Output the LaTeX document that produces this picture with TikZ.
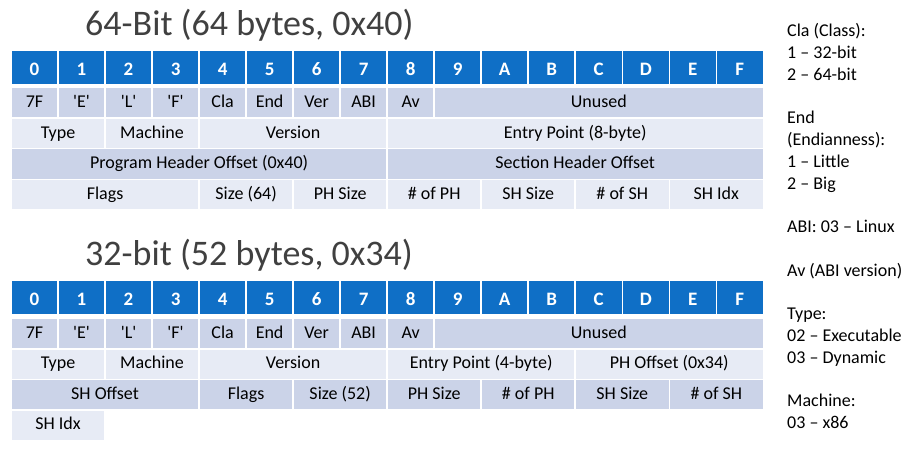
\documentclass[tikz,border=0pt]{standalone}
\usepackage{fontspec}
\newfontfamily\calib{Carlito}
\definecolor{hdrblue}{HTML}{0F6FC6}
\definecolor{banddark}{HTML}{CBD3E8}
\definecolor{bandlight}{HTML}{E7EBF5}
\definecolor{titlegray}{HTML}{404040}

\tikzset{
  cell/.style={rectangle, inner sep=0pt, draw=white, line width=1.5pt,
    text height=13pt, text depth=3.8pt, text=black,
    font=\calib\fontsize{18}{20}\selectfont},
  hdrcell/.style={cell, fill=hdrblue, text=white, text height=15.5pt, text depth=0pt,
    minimum width=47.02pt, minimum height=34.5pt,
    font=\calib\bfseries\fontsize{19}{22}\selectfont},
  title/.style={anchor=base west, inner sep=0pt, text=titlegray,
    font=\calib\fontsize{36}{40}\selectfont},
  legend/.style={anchor=base west, inner sep=0pt, text=black,
    font=\calib\fontsize{18}{21.76}\selectfont}
}

% one field cell: name, fill, row top, first byte column, byte span, label
\newcommand\elfcell[6]{%
  \node[cell, fill=#2, minimum width={#5*47.02pt}, minimum height=30.6pt]
    (#1) at ({11+(#4+#5/2)*47.02}, {#3+15.3}) {#6};}
% one line of the notes column: name, line number, text
\newcommand\noteline[3]{%
  \node[legend] (#1) at (787, {36.7+#2*21.76}) {#3};}

\begin{document}
\begin{tikzpicture}[x=1pt, y=-1pt]
\useasboundingbox (0,0) rectangle (907,450);

% ---------- 64-bit header ----------
\node[title] (title64) at (85,35) {64-Bit (64 bytes, 0x40)};
\foreach \c/\lab in {0/0,1/1,2/2,3/3,4/4,5/5,6/6,7/7,8/8,9/9,10/A,11/B,12/C,13/D,14/E,15/F}
  {\node[hdrcell] (a-h\c) at ({11+(\c+0.5)*47.02}, 67.25) {\lab};}

\foreach \c/\lab in {0/7F,1/'E',2/'L',3/'F',4/Cla,5/End,6/Ver,7/ABI,8/Av}
  {\elfcell{a-r1c\c}{banddark}{87.5}{\c}{1}{\lab}}
\elfcell{a-unused}{banddark}{87.5}{9}{7}{Unused}

\elfcell{a-type}{bandlight}{118.1}{0}{2}{Type}
\elfcell{a-mach}{bandlight}{118.1}{2}{2}{Machine}
\elfcell{a-ver}{bandlight}{118.1}{4}{4}{Version}
\elfcell{a-entry}{bandlight}{118.1}{8}{8}{Entry Point (8-byte)}

\elfcell{a-phoff}{banddark}{148.7}{0}{8}{Program Header Offset (0x40)}
\elfcell{a-shoff}{banddark}{148.7}{8}{8}{Section Header Offset}

\elfcell{a-flags}{bandlight}{179.3}{0}{4}{Flags}
\elfcell{a-size}{bandlight}{179.3}{4}{2}{Size (64)}
\elfcell{a-phsize}{bandlight}{179.3}{6}{2}{PH Size}
\elfcell{a-phnum}{bandlight}{179.3}{8}{2}{\# of PH}
\elfcell{a-shsize}{bandlight}{179.3}{10}{2}{SH Size}
\elfcell{a-shnum}{bandlight}{179.3}{12}{2}{\# of SH}
\elfcell{a-shidx}{bandlight}{179.3}{14}{2}{SH Idx}

% ---------- 32-bit header ----------
\node[title] (title32) at (85,265.5) {32-bit (52 bytes, 0x34)};
\foreach \c/\lab in {0/0,1/1,2/2,3/3,4/4,5/5,6/6,7/7,8/8,9/9,10/A,11/B,12/C,13/D,14/E,15/F}
  {\node[hdrcell] (b-h\c) at ({11+(\c+0.5)*47.02}, 297.95) {\lab};}

\foreach \c/\lab in {0/7F,1/'E',2/'L',3/'F',4/Cla,5/End,6/Ver,7/ABI,8/Av}
  {\elfcell{b-r1c\c}{banddark}{318.2}{\c}{1}{\lab}}
\elfcell{b-unused}{banddark}{318.2}{9}{7}{Unused}

\elfcell{b-type}{bandlight}{348.8}{0}{2}{Type}
\elfcell{b-mach}{bandlight}{348.8}{2}{2}{Machine}
\elfcell{b-ver}{bandlight}{348.8}{4}{4}{Version}
\elfcell{b-entry}{bandlight}{348.8}{8}{4}{Entry Point (4-byte)}
\elfcell{b-phoff}{bandlight}{348.8}{12}{4}{PH Offset (0x34)}

\elfcell{b-shoff}{banddark}{379.4}{0}{4}{SH Offset}
\elfcell{b-flags}{banddark}{379.4}{4}{2}{Flags}
\elfcell{b-size}{banddark}{379.4}{6}{2}{Size (52)}
\elfcell{b-phsize}{banddark}{379.4}{8}{2}{PH Size}
\elfcell{b-phnum}{banddark}{379.4}{10}{2}{\# of PH}
\elfcell{b-shsize}{banddark}{379.4}{12}{2}{SH Size}
\elfcell{b-shnum}{banddark}{379.4}{14}{2}{\# of SH}

\elfcell{b-shidx}{bandlight}{410.0}{0}{2}{SH Idx}

% ---------- field value notes ----------
\noteline{n1}{0}{Cla (Class):}
\noteline{n2}{1}{1 – 32-bit}
\noteline{n3}{2}{2 – 64-bit}
\noteline{n4}{4}{End}
\noteline{n5}{5}{(Endianness):}
\noteline{n6}{6}{1 – Little}
\noteline{n7}{7}{2 – Big}
\noteline{n8}{9}{ABI: 03 – Linux}
\noteline{n9}{11}{Av (ABI version)}
\noteline{n10}{13}{Type:}
\noteline{n11}{14}{02 – Executable}
\noteline{n12}{15}{03 – Dynamic}
\noteline{n13}{17}{Machine:}
\noteline{n14}{18}{03 – x86}
\end{tikzpicture}
\end{document}
